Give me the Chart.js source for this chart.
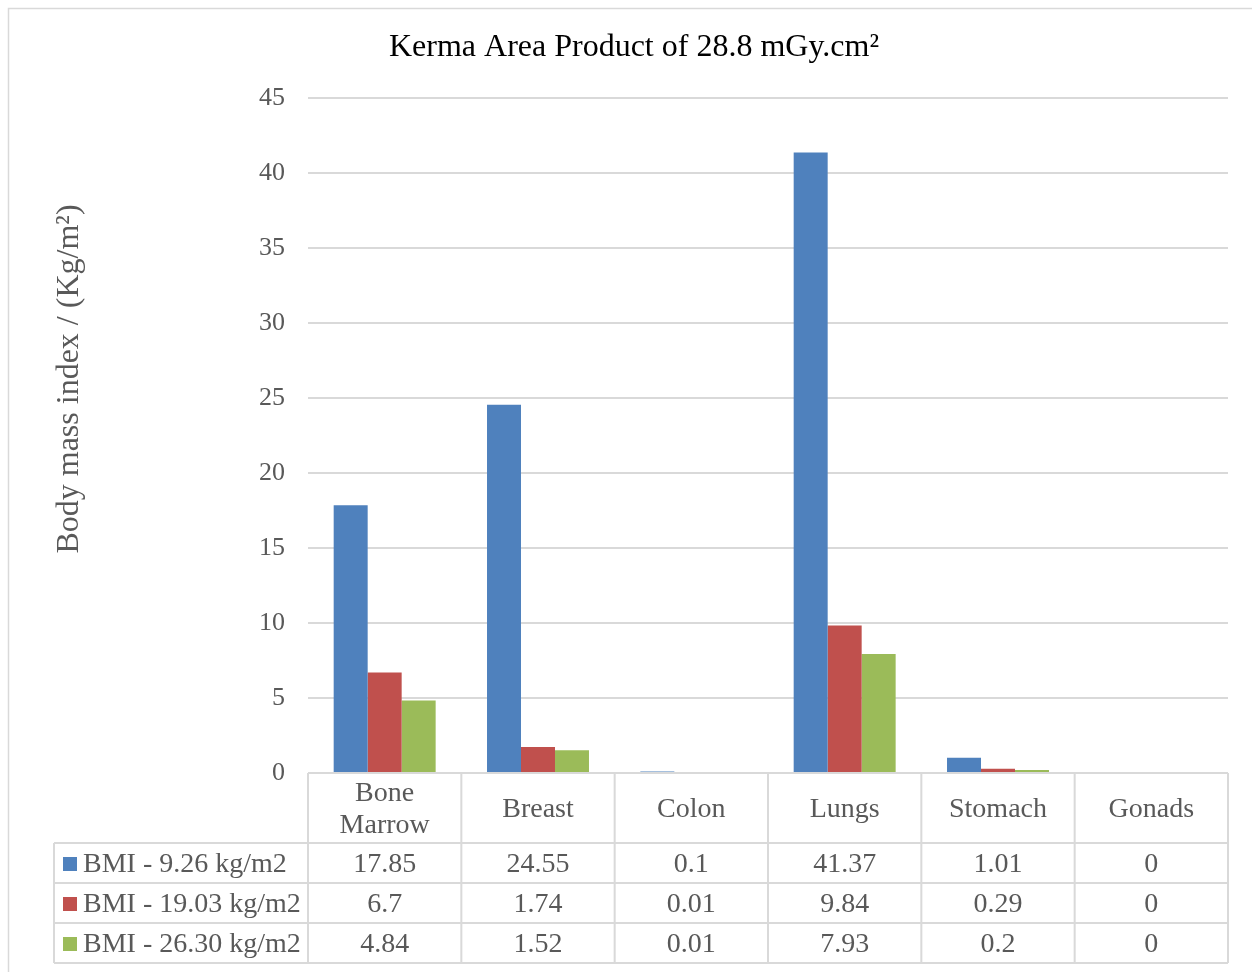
<!DOCTYPE html>
<html>
<head>
<meta charset="utf-8">
<script src="https://cdn.jsdelivr.net/npm/chart.js@4/dist/chart.umd.min.js"></script>
<style>
  html, body { margin: 0; padding: 0; background: #fff; }
  canvas { display: block; }
</style>
</head>
<body>
<canvas id="chart" width="1252" height="972"></canvas>
<script>
// Organ categories (multi-line labels are arrays)
const organs = [["Bone", "Marrow"], "Breast", "Colon", "Lungs", "Stomach", "Gonads"];

// Series names
const seriesNames = ["BMI - 9.26 kg/m2", "BMI - 19.03 kg/m2", "BMI - 26.30 kg/m2"];

// Series values per organ
const bmi926 = [17.85, 24.55, 0.1, 41.37, 1.01, 0];
const bmi1903 = [6.7, 1.74, 0.01, 9.84, 0.29, 0];
const bmi2630 = [4.84, 1.52, 0.01, 7.93, 0.2, 0];

// Value axis range
const yMin = 0;
const yMax = 45;
const yStep = 5;

const seriesColors = ["#4f81bd", "#c0504d", "#9bbb59"];
const FONT = "'Liberation Serif', 'Times New Roman', serif";
const GRAY = "#595959";
const LINE = "#d9d9d9";
const yAxisTitle = "Body mass index / (Kg/m\u00B2)";

// Outer frame around the whole chart
const frame = {
  id: 'frame',
  beforeDraw(chart) {
    const ctx = chart.ctx;
    ctx.save();
    ctx.fillStyle = '#fff';
    ctx.fillRect(0, 0, chart.width, chart.height);
    ctx.strokeStyle = LINE;
    ctx.lineWidth = 1.5;
    ctx.strokeRect(8.5, 8.5, chart.width + 20, chart.height + 20);
    ctx.restore();
  }
};

// Rotated value-axis title, placed in the left margin
const axisTitle = {
  id: 'axisTitle',
  afterDraw(chart) {
    const ctx = chart.ctx;
    ctx.save();
    ctx.translate(70, 379);
    ctx.rotate(-Math.PI / 2);
    ctx.font = "32px " + FONT;
    ctx.fillStyle = GRAY;
    ctx.textAlign = 'center';
    ctx.textBaseline = 'middle';
    ctx.fillText(yAxisTitle, 0, 0);
    ctx.restore();
  }
};

// Data table under the plot: category header row plus one row per series
const dataTable = {
  id: 'dataTable',
  afterDraw(chart) {
    const ctx = chart.ctx;
    const a = chart.chartArea;
    const labels = chart.data.labels;
    const n = labels.length;
    const colW = (a.right - a.left) / n;
    const headerTop = a.bottom;
    const headerBottom = a.bottom + 70;
    const rowH = 40;
    const sets = chart.data.datasets;
    const tableBottom = headerBottom + rowH * sets.length;
    const legendLeft = 54;

    ctx.save();
    ctx.strokeStyle = LINE;
    ctx.lineWidth = 2;
    ctx.beginPath();
    ctx.moveTo(a.left, headerTop); ctx.lineTo(a.right, headerTop);
    for (let r = 0; r <= sets.length; r++) {
      const y = headerBottom + r * rowH;
      ctx.moveTo(legendLeft, y); ctx.lineTo(a.right, y);
    }
    for (let c = 0; c <= n; c++) {
      const x = a.left + c * colW;
      ctx.moveTo(x, headerTop); ctx.lineTo(x, tableBottom);
    }
    ctx.moveTo(legendLeft, headerBottom); ctx.lineTo(legendLeft, tableBottom);
    ctx.stroke();

    ctx.font = "28px " + FONT;
    ctx.fillStyle = GRAY;
    ctx.textAlign = 'center';
    ctx.textBaseline = 'middle';
    labels.forEach((lab, i) => {
      const cx = a.left + (i + 0.5) * colW;
      const lines = Array.isArray(lab) ? lab : [lab];
      const lh = 32;
      const cy = (headerTop + headerBottom) / 2 + 2;
      lines.forEach((t, k) => {
        ctx.fillText(t, cx, cy + (k - (lines.length - 1) / 2) * lh);
      });
    });
    sets.forEach((ds, r) => {
      const cy = headerBottom + (r + 0.5) * rowH + 2;
      ctx.fillStyle = ds.backgroundColor;
      ctx.fillRect(63, cy - 8, 14, 14);
      ctx.fillStyle = GRAY;
      ctx.textAlign = 'left';
      ctx.fillText(ds.label, 83, cy);
      ctx.textAlign = 'center';
      ds.data.forEach((v, i) => {
        ctx.fillText(String(v), a.left + (i + 0.5) * colW, cy);
      });
    });
    ctx.restore();
  }
};

new Chart(document.getElementById('chart'), {
  type: 'bar',
  data: {
    labels: organs,
    datasets: [
      { label: seriesNames[0], data: bmi926, backgroundColor: seriesColors[0] },
      { label: seriesNames[1], data: bmi1903, backgroundColor: seriesColors[1] },
      { label: seriesNames[2], data: bmi2630, backgroundColor: seriesColors[2] }
    ]
  },
  options: {
    responsive: false,
    animation: false,
    devicePixelRatio: 1,
    layout: { padding: { left: 40, right: 24, top: 8, bottom: 0 } },
    datasets: { bar: { categoryPercentage: 0.665, barPercentage: 1, borderWidth: 0 } },
    plugins: {
      legend: { display: false },
      tooltip: { enabled: false },
      title: {
        display: true,
        text: 'Kerma Area Product of 28.8 mGy.cm\u00B2',
        color: '#000',
        font: { family: FONT, size: 32, weight: 'normal' },
        padding: { top: 20, bottom: 31.6 }
      }
    },
    scales: {
      x: {
        grid: { display: false },
        border: { display: false },
        ticks: { display: false },
        afterFit(scale) { scale.height = 199; }
      },
      y: {
        min: yMin,
        max: yMax,
        ticks: {
          stepSize: yStep,
          color: GRAY,
          padding: 23,
          font: { family: FONT, size: 26 }
        },
        grid: { color: LINE, lineWidth: 2, drawTicks: false },
        border: { display: false },
        afterFit(scale) { scale.width = 268; }
      }
    }
  },
  plugins: [frame, axisTitle, dataTable]
});
</script>
</body>
</html>
